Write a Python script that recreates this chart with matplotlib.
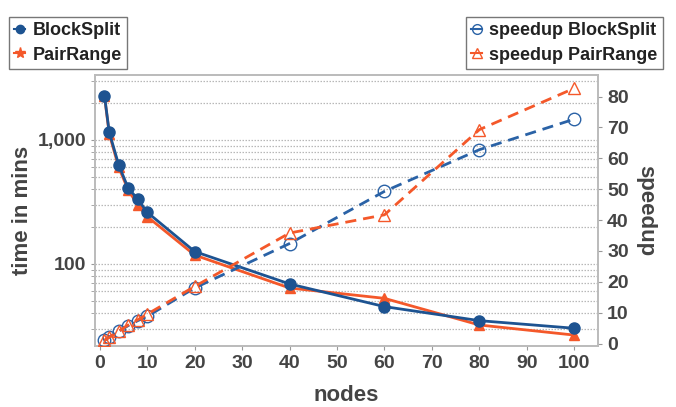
import matplotlib
matplotlib.use("Agg")
import matplotlib.pyplot as plt
from matplotlib.ticker import FixedLocator, FuncFormatter, NullFormatter
from matplotlib.lines import Line2D

nodes = [1, 2, 4, 6, 8, 10, 20, 40, 60, 80, 100]
time_blocksplit = [2275, 1154, 628, 408, 334, 261, 126, 69, 45.3, 34.9, 30.3]
time_pairrange = [2250, 1120, 600, 395, 300, 241, 118, 64, 52.8, 32.2, 26.7]
speedup_blocksplit = [1, 2.1, 4.0, 5.8, 7.4, 8.8, 18.0, 32.4, 49.3, 62.8, 72.7]
speedup_pairrange = [1, 2.0, 4.0, 6.0, 7.7, 9.5, 18.5, 35.8, 41.7, 69.3, 82.7]
x_ticks = [0, 10, 20, 30, 40, 50, 60, 70, 80, 90, 100]
speed_ticks = [0, 10, 20, 30, 40, 50, 60, 70, 80]

BLUE = "#1d5391"
ORANGE = "#f4582a"
GRAY = "#444444"

plt.rcParams['font.family'] = ['Liberation Sans', 'DejaVu Sans']
plt.rcParams['font.weight'] = 'bold'

fig = plt.figure(figsize=(6.76, 4.07), dpi=100)
ax = fig.add_axes([95/676, 1-346/407, (598-95)/676, (346-75)/407])
ax2 = ax.twinx()

ax.set_yscale('log')
ax.set_ylim(21.8, 3340)
ax.set_xlim(-1, 105)
ax2.set_ylim(-0.8, 87)

major = [100, 1000]
minor = [30, 40, 50, 60, 70, 80, 90, 200, 300, 400, 500, 600, 700, 800, 900, 2000, 3000]
ax.yaxis.set_major_locator(FixedLocator(major))
ax.yaxis.set_minor_locator(FixedLocator(minor))
ax.yaxis.set_major_formatter(FuncFormatter(lambda v, p: f"{int(v):,}"))
ax.yaxis.set_minor_formatter(NullFormatter())
ax.grid(True, which='both', axis='y', linestyle=(0, (1.2, 1.2)), color='#b8b8b8', linewidth=0.9)
ax.set_xticks(x_ticks)
ax2.set_yticks(speed_ticks)

ax.plot(nodes, time_pairrange, color=ORANGE, marker='^', markersize=7, linewidth=2, zorder=3)
ax.plot(nodes, time_blocksplit, color=BLUE, marker='o', markersize=8, linewidth=2, zorder=4)
ax2.plot(nodes, speedup_blocksplit, color="#2a62a6", marker='o', markersize=9, markerfacecolor='none',
         linewidth=2, linestyle=(0, (4, 2.5)), zorder=3)
ax2.plot(nodes, speedup_pairrange, color=ORANGE, marker='^', markersize=9, markerfacecolor='none',
         linewidth=2, linestyle=(0, (4, 2.5)), zorder=3)

for a in (ax, ax2):
    for s in a.spines.values():
        s.set_color('#bbbbbb')
        s.set_linewidth(1.2)
    a.tick_params(axis='both', which='both', colors='#999999', labelcolor=GRAY, labelsize=14, length=3)
ax.tick_params(axis='y', which='minor', length=3)
for lab in ax.get_xticklabels() + ax.get_yticklabels() + ax2.get_yticklabels():
    lab.set_fontweight('bold')

ax.set_xlabel('nodes', fontsize=16, fontweight='bold', color=GRAY, labelpad=9)
ax.set_ylabel('time in mins', fontsize=16, fontweight='bold', color=GRAY, labelpad=3)
ax2.set_ylabel('speedup', fontsize=16, fontweight='bold', color=GRAY, rotation=270, labelpad=20)

h1 = [Line2D([], [], color=BLUE, marker='o', markersize=6, linewidth=1.5),
      Line2D([], [], color=ORANGE, marker='*', markersize=8, linewidth=1.5)]
h2 = [Line2D([], [], color="#2a62a6", marker='o', markersize=7, markerfacecolor='none', linewidth=1.5),
      Line2D([], [], color=ORANGE, marker='^', markersize=7, markerfacecolor='none', linewidth=1.5)]
leg1 = fig.legend(h1, ['BlockSplit', 'PairRange'], loc='upper left', bbox_to_anchor=(0/676, 1-8/407),
                  handlelength=0.6, handletextpad=0.4, borderpad=0.3, labelspacing=0.4,
                  fancybox=False, edgecolor='#777777', framealpha=1, prop={'weight': 'bold', 'size': 13})
leg2 = fig.legend(h2, ['speedup BlockSplit', 'speedup PairRange'], loc='upper right',
                  bbox_to_anchor=(672/676, 1-8/407),
                  handlelength=0.6, handletextpad=0.4, borderpad=0.3, labelspacing=0.4,
                  fancybox=False, edgecolor='#777777', framealpha=1, prop={'weight': 'bold', 'size': 13})
for leg in (leg1, leg2):
    leg.get_frame().set_linewidth(1.0)
    for t in leg.get_texts():
        t.set_color('#222222')

fig.savefig('out.png', dpi=100)
